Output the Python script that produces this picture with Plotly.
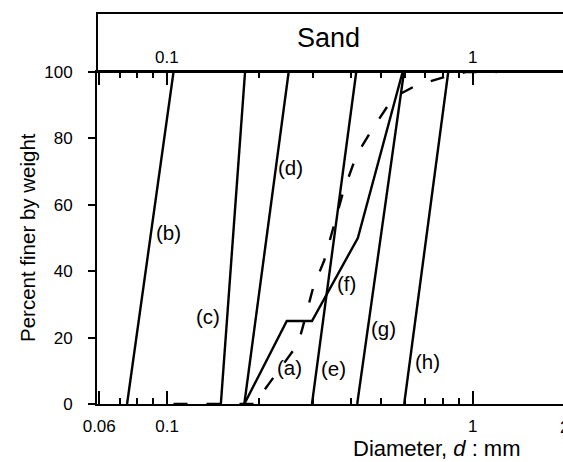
import math
import plotly.graph_objects as go

# ---- data (diameter in mm, percent finer) ----
b_d = [0.074, 0.105]
b_p = [0, 100]
c_d = [0.15, 0.18]
c_p = [0, 100]
d_d = [0.179, 0.25]
d_p = [0, 100]
e_d = [0.298, 0.416]
e_p = [0, 100]
g_d = [0.419, 0.596]
g_p = [0, 100]
h_d = [0.597, 0.832]
h_p = [0, 100]
f_d = [0.179, 0.2465, 0.298, 0.421, 0.59]
f_p = [0, 25, 25, 50, 100]
a_d = [0.105, 0.193, 0.215, 0.2685, 0.279, 0.301, 0.327, 0.349, 0.376, 0.417,
       0.461, 0.53, 0.571, 0.652, 0.725, 0.838, 0.95, 1.2]
a_p = [0, 0, 6, 18.1, 23.7, 35.2, 43.3, 52.4, 63.5, 75, 81.6, 90.1, 93.1, 95.9,
       97.2, 98.9, 100, 100]

label_text = ["(a)", "(b)", "(c)", "(d)", "(e)", "(f)", "(g)", "(h)"]
label_d = [0.251, 0.101, 0.136, 0.253, 0.35, 0.387, 0.51, 0.712]
label_p = [11.1, 51.8, 26.5, 71.1, 10.6, 36.4, 22.7, 12.8]

x_major = [0.06, 0.1, 1]
x_major_text = ["0.06", "0.1", "1"]
x_minor = [0.07, 0.08, 0.09, 0.2, 0.3, 0.4, 0.5, 0.6, 0.7, 0.8, 0.9]
y_ticks = [0, 20, 40, 60, 80, 100]
XMIN, XMAX = 0.059, 1.975

FONT = "Arial, Liberation Sans, sans-serif"
W, H = 563, 462
L, R, T, B = 97, 0, 72, 58
PW, PH = W - L - R, H - T - B

lo, hi = math.log10(XMIN), math.log10(XMAX)

fig = go.Figure()
for xs, ys in [(b_d, b_p), (c_d, c_p), (d_d, d_p), (e_d, e_p), (g_d, g_p),
               (h_d, h_p), (f_d, f_p)]:
    fig.add_trace(go.Scatter(x=xs, y=ys, mode="lines",
                             line=dict(color="black", width=2.4),
                             showlegend=False, hoverinfo="skip"))
fig.add_trace(go.Scatter(x=a_d, y=a_p, mode="lines",
                         line=dict(color="black", width=2.4, dash="14px,19px"),
                         showlegend=False, hoverinfo="skip"))

ann = []
for t, xv, yv in zip(label_text, label_d, label_p):
    ann.append(dict(x=math.log10(xv), y=yv, xref="x", yref="y", text=t,
                    xanchor="center", yanchor="middle", showarrow=False,
                    font=dict(size=20.5, color="black", family=FONT)))


def py2paper(py):
    return (H - B - py) / PH


def px2paper(px):
    return (px - L) / PW


# top box labels
ann.append(dict(x=px2paper(328), y=py2paper(38), xref="paper", yref="paper",
                text="Sand", showarrow=False, xanchor="center", yanchor="middle",
                font=dict(size=27, color="black", family=FONT)))
for t, v in zip(["0.1", "1"], [0.1, 1]):
    ann.append(dict(x=math.log10(v), y=py2paper(58), xref="x", yref="paper",
                    text=t, showarrow=False, xanchor="center", yanchor="middle",
                    font=dict(size=17, color="black", family=FONT)))
# "2" tick label at the clipped right edge
ann.append(dict(x=(math.log10(2) - lo) / (hi - lo), y=py2paper(427),
                xref="paper", yref="paper", text="2", showarrow=False,
                xanchor="center", yanchor="middle",
                font=dict(size=17, color="black", family=FONT)))
# axis titles
ann.append(dict(x=0, y=0.5, xref="paper", yref="paper", xshift=27 - L,
                text="Percent finer by weight", textangle=-90, showarrow=False,
                xanchor="center", yanchor="middle",
                font=dict(size=20.5, color="black", family=FONT)))
ann.append(dict(x=px2paper(437), y=py2paper(448), xref="paper", yref="paper",
                text="Diameter, <i>d</i> : mm", showarrow=False,
                xanchor="center", yanchor="middle",
                font=dict(size=22, color="black", family=FONT)))

fig.update_layout(
    width=W, height=H,
    margin=dict(l=L, r=R, t=T, b=B, pad=0),
    paper_bgcolor="white", plot_bgcolor="white",
    font=dict(family=FONT, color="black", size=17),
    annotations=ann,
    shapes=[dict(type="rect", xref="paper", yref="paper", x0=0, x1=1.2,
                 y0=1, y1=1 + 59 / PH, line=dict(color="black", width=2))],
)
fig.update_xaxes(type="log", range=[lo, hi], showgrid=False, zeroline=False,
                 showline=True, linecolor="black", linewidth=2, mirror="ticks",
                 tickmode="array", tickvals=x_major, ticktext=x_major_text,
                 ticks="inside", ticklen=13, tickwidth=1.5, tickcolor="black",
                 ticklabelstandoff=6,
                 tickfont=dict(size=17, color="black", family=FONT),
                 minor=dict(tickmode="array", tickvals=x_minor, ticks="inside",
                            ticklen=6, tickwidth=1.5, tickcolor="black",
                            showgrid=False))
fig.update_yaxes(range=[0, 100], showgrid=False, zeroline=False,
                 showline=True, linecolor="black", linewidth=2,
                 tickmode="array", tickvals=y_ticks,
                 ticks="outside", ticklen=7, tickwidth=2, tickcolor="black",
                 ticklabelstandoff=12,
                 tickfont=dict(size=17, color="black", family=FONT))

fig.write_html("out.html")
